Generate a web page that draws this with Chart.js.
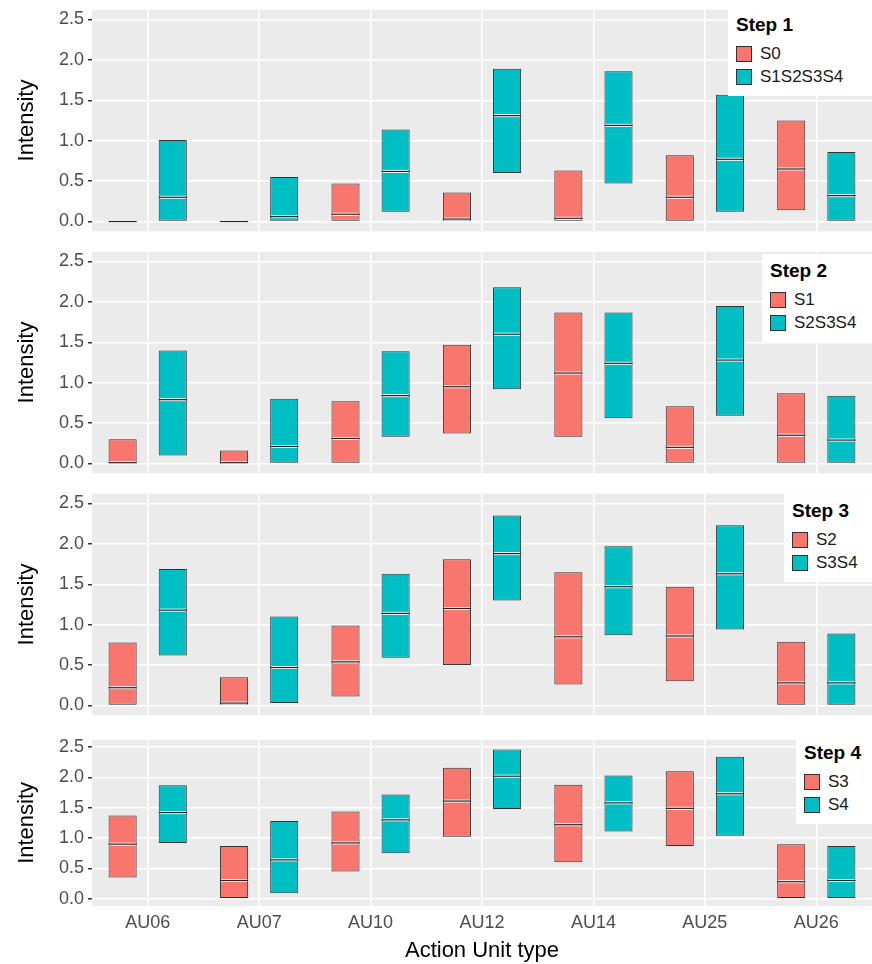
<!DOCTYPE html>
<html><head><meta charset="utf-8">
<script src="https://cdn.jsdelivr.net/npm/chart.js@4"></script>
<style>
body{margin:0;background:#fff;font-family:"Liberation Sans",Arial,sans-serif;overflow:hidden}
.p{position:absolute;left:0;width:872px;}
.lg{position:absolute;background:#fff;padding:6px 8px;font-size:17px;color:#1a1a1a}
.lg b{display:block;font-size:19px;margin-bottom:8px;font-weight:bold;color:#000}
.k{display:flex;align-items:center;margin:3px 0}
.sw{width:14px;height:14px;border:1px solid #333;margin-right:8px}
</style></head><body>
<script>
const categories=["AU06","AU07","AU10","AU12","AU14","AU25","AU26"];
const yTicks=[0,0.5,1,1.5,2,2.5];
const legendTitles=["Step 1","Step 2","Step 3","Step 4"];
const redNames=["S0","S1","S2","S3"];
const tealNames=["S1S2S3S4","S2S3S4","S3S4","S4"];
// [low, high, median]
const red1=[[0,0.01,0],[0,0.01,0],[0,0.47,0.09],[0,0.36,0.03],[0,0.63,0.04],[0,0.82,0.3],[0.14,1.25,0.65]];
const teal1=[[0,1.01,0.3],[0,0.55,0.06],[0.12,1.14,0.62],[0.6,1.89,1.31],[0.47,1.86,1.19],[0.12,1.57,0.77],[0,0.86,0.32]];
const red2=[[0,0.3,0.01],[0,0.16,0.01],[0,0.77,0.31],[0.37,1.47,0.95],[0.33,1.87,1.12],[0,0.71,0.2],[0,0.87,0.35]];
const teal2=[[0.1,1.4,0.79],[0,0.8,0.21],[0.33,1.39,0.84],[0.92,2.18,1.6],[0.56,1.87,1.24],[0.59,1.95,1.28],[0,0.84,0.29]];
const red3=[[0,0.78,0.22],[0,0.35,0.03],[0.11,0.99,0.54],[0.5,1.81,1.2],[0.26,1.65,0.85],[0.3,1.47,0.86],[0,0.79,0.28]];
const teal3=[[0.62,1.69,1.18],[0.03,1.1,0.47],[0.59,1.63,1.14],[1.3,2.35,1.88],[0.87,1.97,1.47],[0.94,2.23,1.63],[0,0.89,0.28]];
const red4=[[0.35,1.37,0.9],[0,0.87,0.3],[0.45,1.44,0.92],[1.02,2.16,1.61],[0.6,1.88,1.22],[0.87,2.1,1.49],[0,0.9,0.28]];
const teal4=[[0.92,1.87,1.42],[0.09,1.28,0.64],[0.75,1.72,1.3],[1.48,2.46,2.02],[1.11,2.03,1.58],[1.04,2.34,1.73],[0,0.87,0.3]];
const reds=[red1,red2,red3,red4], teals=[teal1,teal2,teal3,teal4];
const panels=[{top:-5,h:251,pb:6},{top:237,h:251,pb:6},{top:479,h:251,pb:6},{top:725,h:239,pb:0}];
const legendPos=[{l:728,t:8},{l:762,t:254},{l:784,t:494},{l:796,t:736}];
const RED="#F8766D", TEAL="#00BFC4";
Chart.defaults.font.family='"Liberation Sans", Arial, sans-serif';

const bgPlugin={id:'bg',beforeDraw(c){const a=c.chartArea,x=c.ctx;x.save();x.fillStyle="#EBEBEB";x.fillRect(a.left,a.top,a.right-a.left,a.bottom-a.top);x.restore();}};
const medPlugin={id:'med',afterDatasetsDraw(c){const x=c.ctx,ys=c.scales.y;x.save();
 c.data.datasets.forEach((ds,di)=>{c.getDatasetMeta(di).data.forEach((b,i)=>{const m=ds.medians[i];const y=ys.getPixelForValue(m);
  x.strokeStyle="#fff";x.lineWidth=3;x.beginPath();x.moveTo(b.x-b.width/2+1,y);x.lineTo(b.x+b.width/2-1,y);x.stroke();
  x.strokeStyle="#222";x.lineWidth=1.2;x.beginPath();x.moveTo(b.x-b.width/2,y);x.lineTo(b.x+b.width/2,y);x.stroke();});});
 x.restore();}};

panels.forEach((p,k)=>{
 const d=document.createElement('div');d.className='p';d.style.top=p.top+'px';d.style.height=p.h+'px';
 const cv=document.createElement('canvas');d.appendChild(cv);document.body.appendChild(d);
 const last=k===3;
 const mk=(arr,col,name)=>({label:name,data:arr.map(v=>[v[0],v[1]]),medians:arr.map(v=>v[2]),backgroundColor:col,borderColor:"#333",borderWidth:1,borderSkipped:false,categoryPercentage:0.9,barPercentage:0.56});
 new Chart(cv,{type:'bar',data:{labels:categories,datasets:[mk(reds[k],RED,redNames[k]),mk(teals[k],TEAL,tealNames[k])]},
  options:{responsive:true,maintainAspectRatio:false,animation:false,layout:{padding:{top:8,bottom:p.pb,right:0,left:0}},
   plugins:{legend:{display:false},tooltip:{enabled:false}},
   scales:{
    x:{grid:{offset:false,color:"#fff",lineWidth:1.5,drawTicks:false},border:{display:false},
       ticks:{display:last,color:"#4D4D4D",font:{size:18},padding:6},
       title:{display:last,text:"Action Unit type",color:"#000",font:{size:22},padding:0},
       afterFit(s){if(!last)s.height=0;else s.height=58;}},
    y:{min:-0.12,max:2.62,border:{display:false},afterBuildTicks(s){const t=[];for(let v=0;v<=2.5001;v+=0.25)t.push({value:+v.toFixed(2)});s.ticks=t;},
       grid:{color:"#fff",lineWidth:c=>(Math.abs(c.tick.value*2-Math.round(c.tick.value*2))<1e-6?1.5:0.7),drawTicks:true,tickColor:c=>(Math.abs(c.tick.value*2-Math.round(c.tick.value*2))<1e-6?"#333":"rgba(0,0,0,0)"),tickLength:4},
       ticks:{color:"#4D4D4D",font:{size:18},padding:4,callback:v=>yTicks.some(t=>Math.abs(t-v)<1e-6)?v.toFixed(1):""},
       title:{display:true,text:"Intensity",color:"#000",font:{size:22},padding:{top:14,bottom:2}},
       afterFit(s){s.width=92;}}}},
  plugins:[bgPlugin,medPlugin]});
 const lg=document.createElement('div');lg.className='lg';lg.style.left=legendPos[k].l+'px';lg.style.top=legendPos[k].t+'px';lg.style.right='0';
 lg.innerHTML='<b>'+legendTitles[k]+'</b><div class="k"><span class="sw" style="background:'+RED+'"></span>'+redNames[k]+'</div><div class="k"><span class="sw" style="background:'+TEAL+'"></span>'+tealNames[k]+'</div>';
 document.body.appendChild(lg);
});
</script></body></html>
